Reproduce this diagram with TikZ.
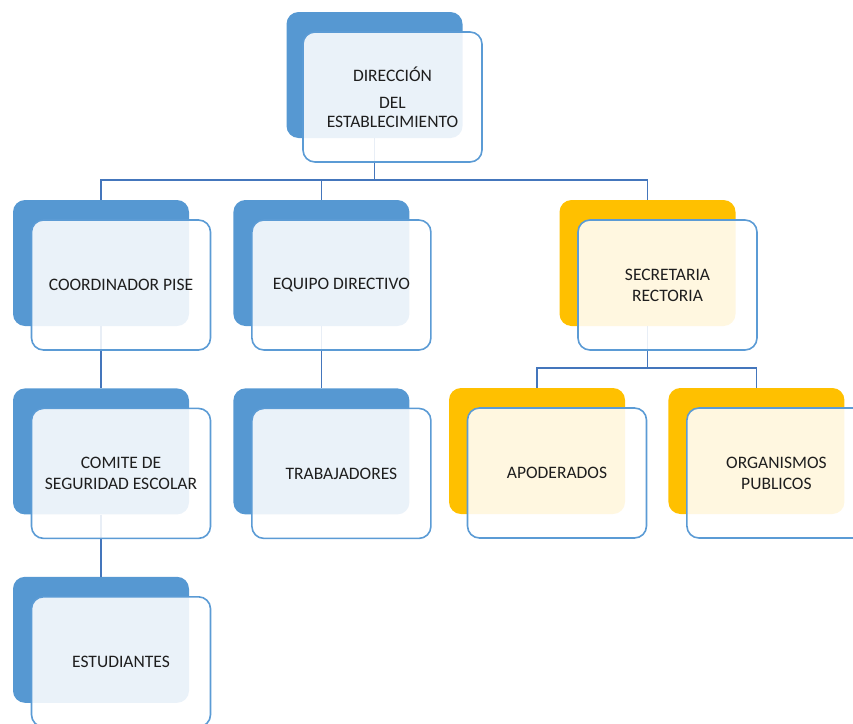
\documentclass[tikz,border=0pt]{standalone}
\usepackage{fontspec}
\setmainfont{Carlito}
\usepackage{xcolor}
\usetikzlibrary{positioning}
\definecolor{deepblue}{RGB}{86,152,210}
\definecolor{deepgold}{RGB}{255,192,0}
\definecolor{edgeblue}{RGB}{91,155,213}
\definecolor{linkblue}{RGB}{68,118,188}
\definecolor{inkgray}{RGB}{30,30,30}

\begin{document}
\begin{tikzpicture}[x=1pt, y=-1pt,
  font=\fontsize{17.5}{21}\selectfont, text=inkgray,
  backbox/.style={rounded corners=12pt, minimum width=176pt, minimum height=126pt,
                  inner sep=0pt, fill=deepblue},
  frontbox/.style={draw=edgeblue, line width=1.6pt, rounded corners=12pt,
                   minimum width=179pt, minimum height=130pt, inner sep=2pt,
                   fill=white, fill opacity=0.88, text opacity=1, align=center},
  link/.style={draw=linkblue, line width=1.6pt}
]
\useasboundingbox (0,0) rectangle (853,723);
% back boxes
\node[backbox] (dirB) at (374.5,75) {};
\node[backbox] (coB) at (101,263) {};
\node[backbox, right=44pt of coB] (eqB) {};
\node[backbox, fill=deepgold] (secB) at (647.5,263) {};
\node[backbox, below=62pt of coB] (comB) {};
\node[backbox, below=62pt of eqB] (trabB) {};
\node[backbox, fill=deepgold] (apoB) at (537,451) {};
\node[backbox, fill=deepgold, right=43pt of apoB] (orgB) {};
\node[backbox, below=62pt of comB] (estB) {};
% buses
\coordinate (bus1) at (374.5,180);
\coordinate (bus2) at (647.5,368);
\draw[link] (dirB.south) |- (bus1) -| (coB.north);
\draw[link] (dirB.south) |- (bus1) -| (eqB.north);
\draw[link] (dirB.south) |- (bus1) -| (secB.north);
\draw[link] (coB.south) -- (comB.north);
\draw[link] (comB.south) -- (estB.north);
\draw[link] (eqB.south) -- (trabB.north);
\draw[link] (secB.south) |- (bus2) -| (apoB.north);
\draw[link] (secB.south) |- (bus2) -| (orgB.north);
% front boxes
\node[frontbox] (dir) at ([shift={(18pt,-22pt)}]dirB.center) {DIRECCIÓN\\[6pt]DEL\\[-2pt]ESTABLECIMIENTO};
\node[frontbox] (co) at ([shift={(20pt,-22pt)}]coB.center) {COORDINADOR PISE};
\node[frontbox] (eq) at ([shift={(20pt,-22pt)}]eqB.center) {EQUIPO DIRECTIVO};
\node[frontbox] (sec) at ([shift={(20pt,-22pt)}]secB.center) {SECRETARIA\\RECTORIA};
\node[frontbox] (com) at ([shift={(20pt,-22pt)}]comB.center) {COMITE DE\\SEGURIDAD ESCOLAR};
\node[frontbox] (trab) at ([shift={(20pt,-22pt)}]trabB.center) {TRABAJADORES};
\node[frontbox] (apo) at ([shift={(20pt,-22pt)}]apoB.center) {APODERADOS};
\node[frontbox] (org) at ([shift={(20pt,-22pt)}]orgB.center) {ORGANISMOS\\PUBLICOS};
\node[frontbox] (est) at ([shift={(20pt,-22pt)}]estB.center) {ESTUDIANTES};
\end{tikzpicture}
\end{document}
